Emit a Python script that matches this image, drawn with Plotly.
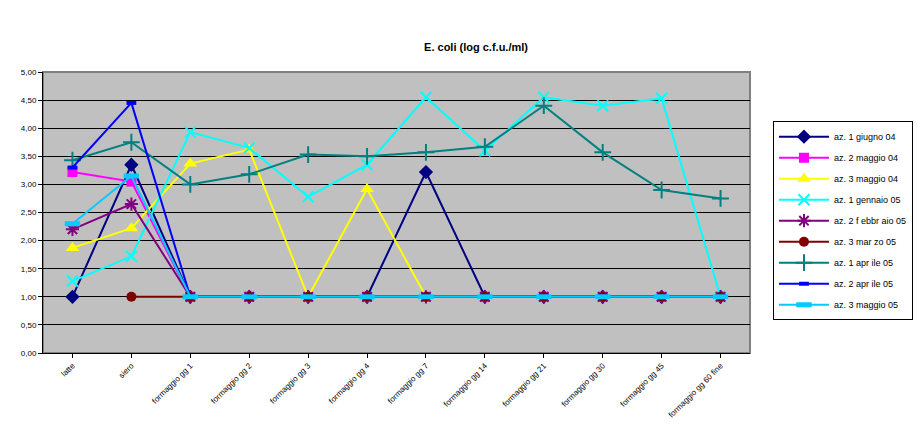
import plotly.graph_objects as go

categories = ["latte", "siero", "formaggio gg 1", "formaggio gg 2", "formaggio gg 3",
              "formaggio gg 4", "formaggio gg 7", "formaggio gg 14", "formaggio gg 21",
              "formaggio gg 30", "formaggio gg 45", "formaggio gg 60 fine"]

az1_giugno04 = [1.00, 3.35, 1.00, 1.00, 1.00, 1.00, 3.22, 1.00, 1.00, 1.00, 1.00, 1.00]
az2_maggio04 = [3.22, 3.05, 1.00, 1.00, 1.00, 1.00, 1.00, 1.00, 1.00, 1.00, 1.00, 1.00]
az3_maggio04 = [1.87, 2.22, 3.37, 3.62, 1.00, 2.92, 1.00, 1.00, 1.00, 1.00, 1.00, 1.00]
az1_gennaio05 = [1.28, 1.72, 3.93, 3.65, 2.78, 3.35, 4.55, 3.60, 4.55, 4.40, 4.53, 1.00]
az2_febbraio05 = [2.20, 2.65, 1.00, 1.00, 1.00, 1.00, 1.00, 1.00, 1.00, 1.00, 1.00, 1.00]
az3_marzo05 = [None, 1.00, 1.00, 1.00, 1.00, 1.00, 1.00, 1.00, 1.00, 1.00, 1.00, 1.00]
az1_aprile05 = [3.43, 3.75, 3.00, 3.18, 3.53, 3.50, 3.57, 3.67, 4.40, 3.57, 2.90, 2.75]
az2_aprile05 = [3.30, 4.45, 1.00, 1.00, 1.00, 1.00, 1.00, 1.00, 1.00, 1.00, 1.00, 1.00]
az3_maggio05 = [2.30, 3.15, 1.00, 1.00, 1.00, 1.00, 1.00, 1.00, 1.00, 1.00, 1.00, 1.00]

y_ticks = [0, 0.5, 1, 1.5, 2, 2.5, 3, 3.5, 4, 4.5, 5]

series = [
    ("az. 1 giugno 04", az1_giugno04, "#000080", "diamond", 11, None),
    ("az. 2 maggio 04", az2_maggio04, "#FF00FF", "square", 10, None),
    ("az. 3 maggio 04", az3_maggio04, "#FFFF00", "triangle-up", 12, None),
    ("az. 1 gennaio 05", az1_gennaio05, "#00FFFF", "x-thin-open", 11, 2),
    ("az. 2 f ebbr aio 05", az2_febbraio05, "#800080", "asterisk-open", 11, 2),
    ("az. 3 mar zo 05", az3_marzo05, "#800000", "circle", 10, None),
    ("az. 1 apr ile 05", az1_aprile05, "#008080", "cross-thin-open", 12, 2),
    ("az. 2 apr ile 05", az2_aprile05, "#0000FF", "line-ew-open", 7, 4),
    ("az. 3 maggio 05", az3_maggio05, "#00CCFF", "line-ew-open", 11, 5),
]

fig = go.Figure()
for i, (name, vals, col, sym, size, lw) in enumerate(series):
    marker = dict(symbol=sym, size=size, color=col)
    if lw:
        marker["line"] = dict(color=col, width=lw)
    fig.add_trace(go.Scatter(
        x=categories, y=vals, name=name, mode="lines+markers",
        line=dict(color=col, width=2), marker=marker,
        legendgroup=f"g{i}", connectgaps=False,
    ))

fig.update_layout(
    width=919, height=443,
    margin=dict(l=43, r=169, t=72, b=90, autoexpand=False),
    paper_bgcolor="white", plot_bgcolor="#C0C0C0",
    separators=",.",
    font=dict(family="Arial, Liberation Sans, sans-serif", size=9, color="black"),
    title=dict(text="<b>E. coli (log c.f.u./ml)</b>", x=0.518, xanchor="center",
               y=0.894, yanchor="middle", font=dict(size=11)),
    showlegend=True,
    legend=dict(x=1.0325, xanchor="left", y=0.825, yanchor="top",
                bordercolor="black", borderwidth=1, bgcolor="white",
                font=dict(size=9), itemwidth=50, tracegroupgap=2,
                traceorder="grouped"),
    xaxis=dict(type="category", tickangle=-45, showgrid=False, automargin=False,
               showline=True, linecolor="black", linewidth=1,
               ticks="outside", ticklen=4, tickcolor="black",
               tickfont=dict(size=8), range=[-0.5, 11.5], mirror=False),
    yaxis=dict(range=[0, 5], tickvals=y_ticks, tickformat=".2f", automargin=False,
               showgrid=True, gridcolor="black", gridwidth=1,
               showline=True, linecolor="black", linewidth=1,
               ticks="outside", ticklen=4, tickcolor="black",
               tickfont=dict(size=8), zeroline=False),
)
fig.add_shape(type="rect", xref="paper", yref="paper", x0=0, x1=1, y0=0, y1=1,
              line=dict(color="#808080", width=2), layer="below")
fig.write_html("out.html", config={"displayModeBar": False},
               post_script="document.body.style.margin='0';document.body.style.overflow='hidden';")
